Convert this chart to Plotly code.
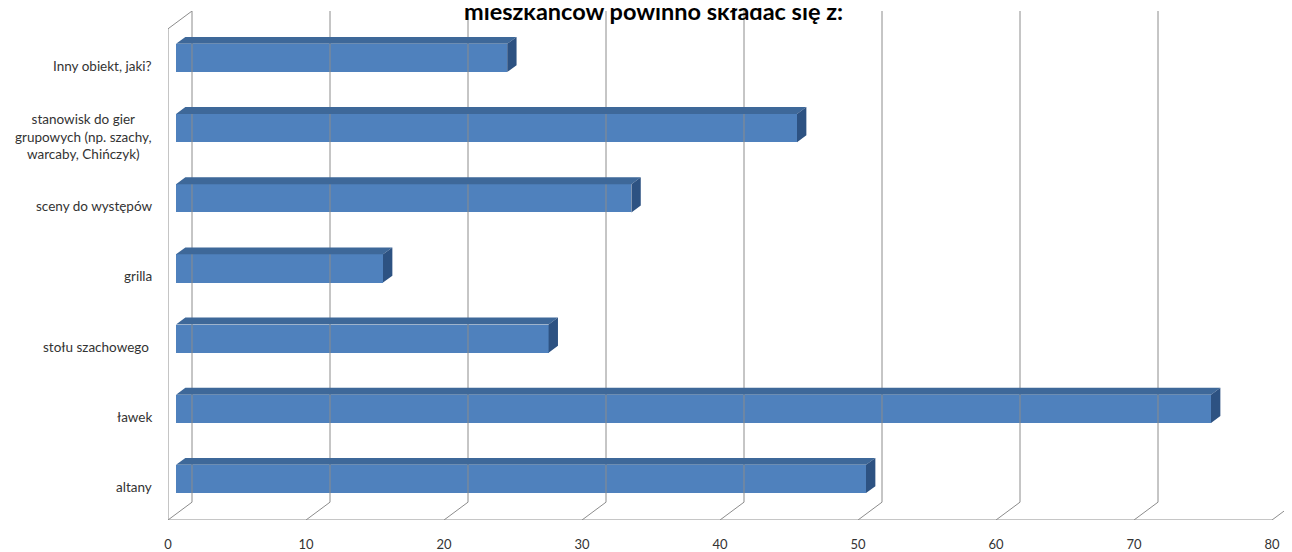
import plotly.graph_objects as go

# ---- data (bottom to top) ----
categories = [
    "altany",
    "ławek",
    "stołu szachowego ",
    "grilla",
    "sceny do występów",
    "stanowisk do gier<br>grupowych (np. szachy,<br>warcaby, Chińczyk)",
    "Inny obiekt, jaki?",
]
values = [50, 75, 27, 15, 33, 45, 24]
x_ticks = [0, 10, 20, 30, 40, 50, 60, 70, 80]
title_text = "mieszkańców powinno składać się z:"

# ---- pseudo-3D geometry (in axis units) ----
PX_X = 13.8                      # px per value unit
PX_Y = 496 / 7                   # px per category
DX = 24 / PX_X                   # depth offset (back wall) in x units
DY = 18 / PX_Y                   # depth offset in y units
F_FRONT = 1 / 3                  # depth fraction of bar front face
F_DEPTH = 0.39                   # depth of the bar box
BAR_W = 28.5 / PX_Y

FRONT = "#4F81BD"
TOP = "#3E6899"
SIDE = "#2D5282"
GRID = "#8C8C8C"

fig = go.Figure()

# walls / gridlines
gx, gy = [], []
for t in x_ticks:
    gx += [t, t + DX, t + DX, None]
    gy += [-0.5, -0.5 + DY, 6.5 + DY, None]
# left wall and floor front edge
gx += [0, 0, DX, None, 0, x_ticks[-1], None]
gy += [-0.5, 6.5, 6.5 + DY, None, -0.5, -0.5, None]
fig.add_trace(go.Scatter(x=gx, y=gy, mode="lines", line=dict(color=GRID, width=1),
                         hoverinfo="skip", showlegend=False))

n = len(values)
yc = [i + DY * F_FRONT for i in range(n)]
base = DX * F_FRONT
ddx = DX * F_DEPTH
ddy = DY * F_DEPTH

# front faces
fig.add_trace(go.Bar(y=yc, x=values, base=base, orientation="h", width=BAR_W,
                     marker=dict(color=FRONT, line=dict(width=0)),
                     showlegend=False, hoverinfo="x"))

# top and side faces
tx, ty, sx, sy = [], [], [], []
for i, v in enumerate(values):
    yt = yc[i] + BAR_W / 2
    yb = yc[i] - BAR_W / 2
    x0, x1 = base, base + v
    tx += [x0, x1, x1 + ddx, x0 + ddx, x0, None]
    ty += [yt, yt, yt + ddy, yt + ddy, yt, None]
    sx += [x1, x1, x1 + ddx, x1 + ddx, x1, None]
    sy += [yb, yt, yt + ddy, yb + ddy, yb, None]
fig.add_trace(go.Scatter(x=tx, y=ty, mode="lines", fill="toself", fillcolor=TOP,
                         line=dict(width=0, color=TOP), hoverinfo="skip", showlegend=False))
fig.add_trace(go.Scatter(x=sx, y=sy, mode="lines", fill="toself", fillcolor=SIDE,
                         line=dict(width=0, color=SIDE), hoverinfo="skip", showlegend=False))

# category labels
for i, c in enumerate(categories):
    fig.add_annotation(x=0, y=i, xref="x", yref="y", text=c, showarrow=False,
                       xanchor="right", yanchor="middle", align="center",
                       xshift=-14, yshift=-2,
                       font=dict(family="Lato", size=13.5, color="#333333"))

# title (its first line is cut off in the original)
fig.add_annotation(x=0.432, y=1.0, xref="paper", yref="paper", text="<b>" + title_text + "</b>",
                   showarrow=False, xanchor="center", yanchor="bottom", yshift=-16,
                   font=dict(family="Lato", size=23.5, color="#000000"))

fig.update_layout(
    width=1284, height=544,
    margin=dict(l=160, r=0, t=3, b=27),
    paper_bgcolor="white", plot_bgcolor="white",
    bargap=0,
    xaxis=dict(range=[0, 1124 / PX_X], tickvals=x_ticks, showgrid=False, zeroline=False,
               showline=False, ticks="outside", ticklen=12, tickcolor="rgba(0,0,0,0)",
               tickfont=dict(family="Lato", size=13, color="#333333"), fixedrange=True),
    yaxis=dict(range=[-0.5, 6.5 + 18 / PX_Y], showgrid=False, zeroline=False,
               showline=False, showticklabels=False, fixedrange=True),
)

fig.write_html("out.html")
